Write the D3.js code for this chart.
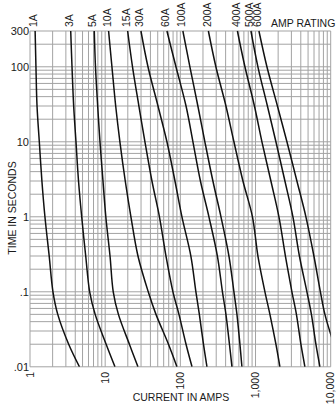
<!DOCTYPE html>
<html>
<head>
<meta charset="utf-8">
<script src="https://cdn.jsdelivr.net/npm/d3@7"></script>
<style>
  body { margin: 0; background: #fff; }
  svg { display: block; }
  text { font-family: "Liberation Sans", Arial, Helvetica, sans-serif; fill: #1a1a1a; }
</style>
</head>
<body>
<svg id="chart" width="336" height="404"></svg>
<script>
// Melting time (seconds) at which each current reading is taken
const times = [300, 100, 30, 10, 3, 1, 0.3, 0.1, 0.05, 0.02, 0.01];

// Current (amps) for each fuse rating at the times above
const amps1A   = [1.17, 1.20, 1.24, 1.33, 1.44, 1.58, 1.80, 2.02, 2.34, 3.27, 4.55];
const amps3A   = [3.48, 3.62, 3.81, 4.09, 4.42, 4.87, 5.51, 6.22, 7.36, 10.3, 13.5];
const amps5A   = [7.16, 7.43, 7.95, 8.53, 9.35, 10.2, 11.6, 12.8, 15.0, 21.0, 27.3];
const amps10A  = [11.1, 12.3, 13.8, 15.7, 18.5, 22.0, 27.3, 37.4, 47.4, 69.5, 90.1];
const amps15A  = [19.9, 23.1, 28.1, 33.8, 41.9, 52.7, 64.4, 79.7, 95.8, 119, 143];
const amps30A  = [29.9, 37.1, 50.4, 66.3, 84.8, 105, 138, 161, 179, 203, 226];
const amps60A  = [66.3, 87.4, 119, 147, 185, 240, 311, 363, 404, 450, 486];
const amps100A = [108, 134, 171, 212, 271, 347, 443, 516, 566, 620, 659];
const amps200A = [236, 297, 404, 516, 680, 910, 1076, 1334, 1554, 1867, 2111];
const amps400A = [574, 723, 967, 1217, 1602, 2048, 2498, 3048, 3499, 4015, 4538];
const amps500A = [869, 1076, 1439, 1867, 2460, 3144, 3835, 4826, 5539, 6356, 7185];
const amps600A = [1110, 1418, 1956, 2616, 3552, 4680, 5978, 7295, 8375, 11030];

const ratings = ["1A", "3A", "5A", "10A", "15A", "30A", "60A", "100A", "200A", "400A", "500A", "600A"];
const seriesAmps = [amps1A, amps3A, amps5A, amps10A, amps15A, amps30A, amps60A,
                    amps100A, amps200A, amps400A, amps500A, amps600A];

// Axis tick labels
const xTickValues = [1, 10, 100, 1000, 10000];
const xTickLabels = ["1", "10", "100", "1,000", "10,000"];
const yTickValues = [300, 100, 10, 1, 0.1, 0.01];
const yTickLabels = ["300", "100", "10", "1", ".1", ".01"];

const svg = d3.select("#chart");
const plotLeft = 30, plotRight = 330.7, plotTop = 31, plotBottom = 366.8;

const x = d3.scaleLog().domain([1, 10000]).range([plotLeft, plotRight]);
const y = d3.scaleLog().domain([0.01, 300]).range([plotBottom, plotTop]);

// Log grid: every 1..9 step of each decade
const grid = svg.append("g").attr("stroke", "#a3a3a3").attr("stroke-width", 1);
grid.selectAll("line.v").data(x.ticks()).join("line")
  .attr("class", "v")
  .attr("x1", d => x(d)).attr("x2", d => x(d))
  .attr("y1", plotTop).attr("y2", plotBottom);
grid.selectAll("line.h").data(y.ticks().filter(d => d <= 300)).join("line")
  .attr("class", "h")
  .attr("x1", plotLeft).attr("x2", plotRight)
  .attr("y1", d => y(d)).attr("y2", d => y(d));

// Clip region for the curves
svg.append("defs").append("clipPath").attr("id", "plot-clip")
  .append("rect").attr("x", plotLeft).attr("y", plotTop - 1)
  .attr("width", plotRight - plotLeft).attr("height", plotBottom - plotTop + 1);

const line = d3.line()
  .x(d => x(d[0]))
  .y(d => y(d[1]))
  .curve(d3.curveCatmullRom.alpha(0.5));

const curves = ratings.map((r, i) => ({
  rating: r,
  points: seriesAmps[i].map((a, j) => [a, times[j]])
}));

svg.append("g").attr("clip-path", "url(#plot-clip)")
  .selectAll("path").data(curves).join("path")
  .attr("d", d => line(d.points))
  .attr("fill", "none")
  .attr("stroke", "#111")
  .attr("stroke-width", 1.5);

// Rating labels above each curve
svg.append("g").selectAll("text").data(curves).join("text")
  .attr("transform", d => `translate(${x(d.points[0][0]) - 1.5},27) rotate(-90)`)
  .attr("dy", "0.35em")
  .attr("text-anchor", "start")
  .style("font-size", "10.5px")
  .text(d => d.rating);

svg.append("text")
  .attr("x", 271).attr("y", 27)
  .style("font-size", "10.5px")
  .text("AMP RATING");

// Y axis labels
svg.append("g").selectAll("text").data(yTickValues).join("text")
  .attr("x", 29).attr("y", d => y(d))
  .attr("dy", "0.35em")
  .attr("text-anchor", "end")
  .style("font-size", "11px")
  .text((d, i) => yTickLabels[i]);

// X axis labels (rotated)
svg.append("g").selectAll("text").data(xTickValues).join("text")
  .attr("transform", d => `translate(${x(d)},372) rotate(-90)`)
  .attr("dy", "0.35em")
  .attr("text-anchor", "end")
  .style("font-size", "10.5px")
  .text((d, i) => xTickLabels[i]);

// Axis titles
svg.append("text")
  .attr("transform", "translate(12,208) rotate(-90)")
  .attr("dy", "0.35em")
  .attr("text-anchor", "middle")
  .style("font-size", "10.5px")
  .text("TIME IN SECONDS");

svg.append("text")
  .attr("x", 181).attr("y", 400.5)
  .attr("text-anchor", "middle")
  .style("font-size", "10.5px")
  .text("CURRENT IN AMPS");
</script>
</body>
</html>
